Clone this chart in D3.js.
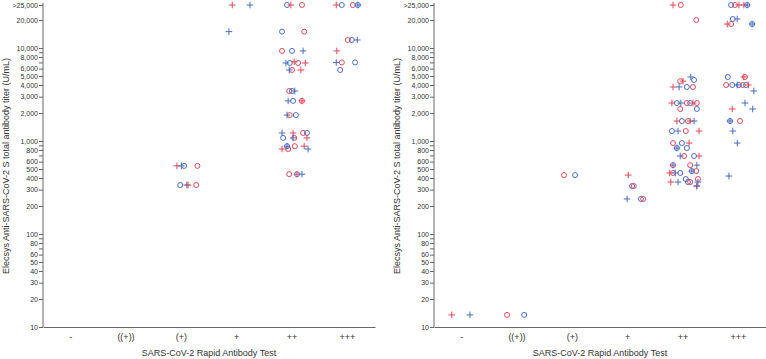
<!DOCTYPE html>
<html>
<head>
<meta charset="utf-8">
<script src="https://cdn.jsdelivr.net/npm/d3@7"></script>
<style>
body {
  margin: 0;
  background-color: white;
}
.axis path,
.axis line {
  fill: none;
  stroke: #666;
}
.axis text {
  font-family: "Liberation Sans", Arial, sans-serif;
  fill: #333;
}
.title {
  font-family: "Liberation Sans", Arial, sans-serif;
  font-size: 9px;
  fill: #333;
}
</style>
</head>
<body>
<script>

const categories = ["-", "((+))", "(+)", "+", "++", "+++"];

// ">25,000" is drawn a little above 25,000, where the reference puts it
const TOP = 29000;
const yTickValues = [10, 20, 30, 40, 50, 60, 70, 80, 90, 100, 200, 300, 400, 500, 600, 700, 800, 900,
                     1000, 2000, 3000, 4000, 5000, 6000, 7000, 8000, 9000, 10000, 20000, TOP];
const yTickLabels = ["10", "20", "30", "40", "50", "60", "", "80", "", "100", "200", "300", "400", "500", "600", "", "800", "",
                     "1,000", "2,000", "3,000", "4,000", "5,000", "6,000", "", "8,000", "", "10,000", "20,000", ">25,000"];

const yTitle = "Elecsys Anti-SARS-CoV-2 S total antibody titer (U/mL)";
const xTitle = "SARS-CoV-2 Rapid Antibody Test";

// [category, titer, jitter (fraction of band), marker, colour]
const leftPoints = [
  ["(+)", 540, -0.08, "+", "r"], ["(+)", 540, 0.00, "+", "b"], ["(+)", 540, 0.05, "o", "b"], ["(+)", 540, 0.29, "o", "r"],
  ["(+)", 336, -0.02, "o", "b"], ["(+)", 336, 0.10, "+", "b"], ["(+)", 336, 0.12, "+", "r"], ["(+)", 336, 0.27, "o", "r"],
  ["+", TOP, -0.08, "+", "r"], ["+", TOP, 0.24, "+", "b"], ["+", 15000, -0.14, "+", "b"],
  ["++", TOP, -0.09, "o", "b"], ["++", TOP, -0.02, "+", "r"], ["++", TOP, 0.18, "o", "r"],
  ["++", 15000, -0.18, "o", "b"], ["++", 15000, 0.22, "o", "r"],
  ["++", 9300, -0.18, "o", "r"], ["++", 9300, 0.00, "o", "b"], ["++", 9300, 0.20, "+", "b"],
  ["++", 6900, -0.11, "+", "b"], ["++", 6900, -0.04, "o", "b"], ["++", 7100, 0.04, "+", "r"], ["++", 6900, 0.11, "o", "r"], ["++", 6900, 0.24, "+", "r"],
  ["++", 5800, -0.05, "+", "b"], ["++", 5800, 0.00, "o", "r"], ["++", 5800, 0.16, "+", "r"],
  ["++", 3450, -0.05, "o", "r"], ["++", 3450, 0.00, "o", "b"], ["++", 3450, 0.05, "+", "b"],
  ["++", 2700, -0.07, "+", "b"], ["++", 2700, 0.02, "o", "b"], ["++", 2700, 0.18, "o", "r"], ["++", 2700, 0.18, "+", "r"],
  ["++", 1900, -0.09, "+", "b"], ["++", 1900, -0.04, "o", "r"], ["++", 1900, 0.07, "o", "b"],
  ["++", 1220, -0.18, "+", "b"], ["++", 1220, 0.02, "+", "r"], ["++", 1220, 0.20, "o", "r"], ["++", 1220, 0.27, "o", "b"],
  ["++", 1080, -0.16, "o", "b"], ["++", 1080, 0.02, "+", "b"], ["++", 1080, 0.04, "o", "r"], ["++", 1080, 0.27, "+", "r"],
  ["++", 880, -0.09, "o", "b"], ["++", 880, -0.09, "+", "b"], ["++", 880, 0.05, "o", "r"], ["++", 880, 0.22, "+", "r"],
  ["++", 820, -0.18, "+", "r"], ["++", 820, -0.07, "o", "r"], ["++", 820, 0.29, "+", "b"],
  ["++", 440, -0.05, "o", "r"], ["++", 440, 0.09, "o", "b"], ["++", 440, 0.09, "+", "r"], ["++", 440, 0.18, "+", "b"],
  ["+++", TOP, -0.20, "+", "r"], ["+++", TOP, -0.10, "o", "b"], ["+++", TOP, 0.10, "o", "r"], ["+++", TOP, 0.19, "o", "b"], ["+++", TOP, 0.19, "+", "b"],
  ["+++", 12200, 0.01, "o", "r"], ["+++", 12200, 0.08, "o", "b"], ["+++", 12200, 0.18, "+", "b"],
  ["+++", 9300, -0.19, "+", "r"],
  ["+++", 7000, -0.20, "+", "b"], ["+++", 7000, -0.10, "o", "r"], ["+++", 7000, 0.14, "o", "b"],
  ["+++", 5800, -0.13, "o", "b"]
];

const rightPoints = [
  ["-", 13.5, -0.18, "+", "r"], ["-", 13.5, 0.15, "+", "b"],
  ["((+))", 13.5, -0.18, "o", "r"], ["((+))", 13.5, 0.13, "o", "b"],
  ["(+)", 430, -0.15, "o", "r"], ["(+)", 430, 0.05, "o", "b"],
  ["+", 430, 0.01, "+", "r"], ["+", 328, 0.08, "o", "b"], ["+", 328, 0.11, "o", "r"],
  ["+", 238, -0.01, "+", "b"], ["+", 238, 0.24, "o", "b"], ["+", 238, 0.28, "o", "r"],
  ["++", TOP, -0.18, "+", "r"], ["++", TOP, -0.04, "o", "r"], ["++", 20000, 0.24, "o", "r"],
  ["++", 4880, 0.14, "+", "b"], ["++", 4530, 0.20, "o", "b"], ["++", 4400, -0.05, "o", "r"], ["++", 4400, 0.00, "+", "r"],
  ["++", 3810, -0.18, "+", "r"], ["++", 3810, -0.07, "+", "b"], ["++", 3810, 0.07, "o", "b"], ["++", 3810, 0.18, "o", "r"],
  ["++", 2560, -0.20, "+", "r"], ["++", 2560, -0.11, "o", "b"], ["++", 2560, -0.04, "+", "b"], ["++", 2560, 0.07, "o", "r"],
  ["++", 2560, 0.13, "o", "b"], ["++", 2560, 0.18, "+", "r"], ["++", 2560, 0.25, "o", "r"],
  ["++", 2210, -0.05, "o", "r"], ["++", 2210, 0.25, "o", "b"],
  ["++", 1640, -0.11, "+", "r"], ["++", 1640, -0.02, "o", "b"], ["++", 1640, 0.09, "o", "r"], ["++", 1640, 0.13, "+", "r"], ["++", 1640, 0.20, "+", "b"],
  ["++", 1280, -0.20, "o", "b"], ["++", 1280, -0.09, "+", "b"], ["++", 1280, 0.05, "o", "r"], ["++", 1280, 0.29, "+", "r"],
  ["++", 950, -0.18, "o", "r"], ["++", 950, -0.02, "o", "b"], ["++", 950, 0.11, "+", "r"],
  ["++", 840, -0.11, "o", "b"], ["++", 840, -0.11, "+", "b"], ["++", 840, 0.07, "o", "b"],
  ["++", 690, -0.05, "+", "b"], ["++", 690, 0.02, "o", "r"], ["++", 690, 0.20, "o", "b"], ["++", 690, 0.29, "+", "r"],
  ["++", 550, -0.18, "o", "r"], ["++", 550, -0.18, "+", "b"], ["++", 550, 0.13, "o", "r"], ["++", 550, 0.25, "+", "b"],
  ["++", 475, 0.16, "o", "b"], ["++", 475, 0.16, "+", "b"], ["++", 475, 0.24, "o", "r"],
  ["++", 453, -0.24, "+", "r"], ["++", 453, -0.14, "+", "b"], ["++", 453, -0.18, "o", "r"], ["++", 453, -0.05, "o", "b"],
  ["++", 390, 0.05, "o", "b"], ["++", 390, 0.27, "o", "r"],
  ["++", 362, -0.22, "+", "r"], ["++", 362, -0.09, "+", "b"], ["++", 362, 0.09, "o", "b"], ["++", 362, 0.13, "o", "r"], ["++", 362, 0.27, "+", "b"],
  ["++", 328, 0.25, "+", "r"], ["++", 328, 0.25, "+", "b"],
  ["+++", TOP, -0.13, "o", "b"], ["+++", TOP, -0.06, "o", "r"], ["+++", TOP, 0.01, "+", "r"], ["+++", TOP, 0.10, "+", "r"],
  ["+++", TOP, 0.16, "o", "b"], ["+++", TOP, 0.16, "+", "b"],
  ["+++", 20500, -0.10, "o", "b"], ["+++", 20500, -0.02, "+", "b"],
  ["+++", 18100, -0.20, "+", "r"], ["+++", 18100, -0.13, "o", "r"], ["+++", 18100, 0.25, "o", "b"], ["+++", 18100, 0.25, "+", "b"],
  ["+++", 4880, -0.19, "o", "b"], ["+++", 4880, 0.10, "+", "r"], ["+++", 4880, 0.12, "o", "r"],
  ["+++", 4000, -0.22, "o", "r"], ["+++", 4000, -0.11, "o", "b"], ["+++", 4000, -0.02, "+", "b"], ["+++", 4000, 0.01, "o", "b"],
  ["+++", 4000, 0.08, "o", "r"], ["+++", 4000, 0.14, "o", "b"], ["+++", 4000, 0.18, "+", "r"],
  ["+++", 3450, 0.28, "+", "b"], ["+++", 2560, 0.12, "+", "b"],
  ["+++", 2210, -0.11, "+", "r"], ["+++", 2210, 0.26, "+", "b"],
  ["+++", 1640, -0.15, "o", "b"], ["+++", 1640, -0.15, "+", "b"], ["+++", 1640, 0.03, "o", "r"],
  ["+++", 1280, -0.10, "+", "b"], ["+++", 950, -0.02, "+", "b"], ["+++", 420, -0.17, "+", "b"]
];

const colours = {r: "#e4485a", b: "#4a6cc4"};

const svg = d3.select("body")
            .append("svg")
            .attr("width", 766)
            .attr("height", 359);

const plotTop = 5, plotBottom = 327, panelWidth = 332;

const x = d3.scaleBand().domain(categories).range([0, panelWidth]).padding(0);
const y = d3.scaleLog().domain([10, TOP]).range([plotBottom, plotTop]);

function drawPanel(left, points) {
    const g = svg.append("g").attr("transform", `translate(${left}, 0)`);

    const yAxis = d3.axisLeft(y)
                    .tickValues(yTickValues)
                    .tickFormat((d, i) => yTickLabels[i])
                    .tickSize(4)
                    .tickPadding(1)
                    .tickSizeOuter(0);
    const ya = g.append("g").attr("class", "axis").call(yAxis);
    ya.selectAll("text").style("font-size", "7px");
    ya.select(".domain").attr("d", `M0,${plotTop - 2}V${plotBottom}`);

    const xAxis = d3.axisBottom(x).tickSize(0).tickPadding(7);
    const xa = g.append("g")
                .attr("class", "axis")
                .attr("transform", `translate(0, ${plotBottom})`)
                .call(xAxis);
    xa.selectAll("text").style("font-size", "9px");

    g.append("text")
     .attr("class", "title")
     .attr("text-anchor", "middle")
     .attr("x", panelWidth / 2)
     .attr("y", 356)
     .text(xTitle);

    g.append("text")
     .attr("class", "title")
     .attr("text-anchor", "middle")
     .attr("transform", `translate(-34, ${(plotTop + plotBottom) / 2}) rotate(-90)`)
     .text(yTitle);

    const cx = d => x(d[0]) + x.bandwidth() / 2 + d[2] * x.bandwidth();

    g.selectAll("circle").data(points.filter(d => d[3] === "o")).enter()
     .append("circle")
     .attr("cx", cx)
     .attr("cy", d => y(d[1]))
     .attr("r", 2.5)
     .attr("fill", "none")
     .attr("stroke", d => colours[d[4]])
     .attr("stroke-width", 1);

    g.selectAll("path.plus").data(points.filter(d => d[3] === "+")).enter()
     .append("path")
     .attr("class", "plus")
     .attr("d", d => `M${cx(d) - 3.3},${y(d[1])}h6.6M${cx(d)},${y(d[1]) - 3.3}v6.6`)
     .attr("stroke", d => colours[d[4]])
     .attr("stroke-width", 1);
}

drawPanel(43, leftPoints);
drawPanel(434, rightPoints);

</script>
</body>
</html>
